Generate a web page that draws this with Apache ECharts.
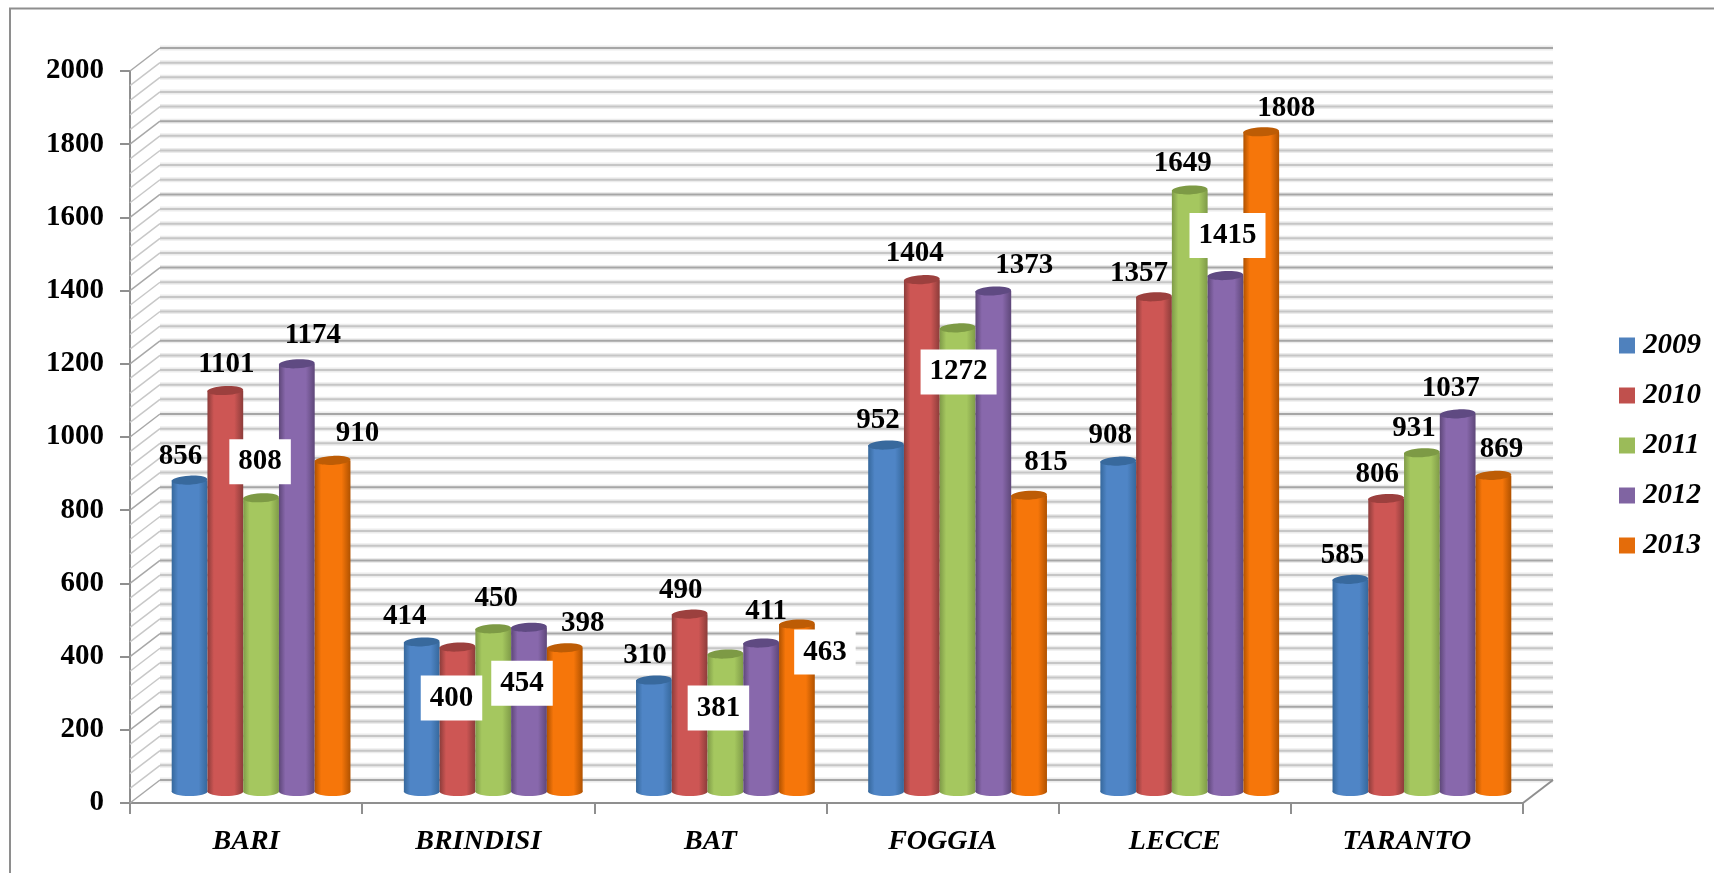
<!DOCTYPE html>
<html>
<head>
<meta charset="utf-8">
<title>Province</title>
<style>
  html, body { margin: 0; padding: 0; background: #fff; }
  #chart { width: 1714px; height: 873px; }
</style>
<script src="https://cdn.jsdelivr.net/npm/echarts@6/dist/echarts.min.js"></script>
</head>
<body>
<div id="chart"></div>
<script>
var categories = ['BARI', 'BRINDISI', 'BAT', 'FOGGIA', 'LECCE', 'TARANTO'];
var years = ['2009', '2010', '2011', '2012', '2013'];

var values2009 = [856, 414, 310, 952, 908, 585];
var values2010 = [1101, 400, 490, 1404, 1357, 806];
var values2011 = [808, 450, 381, 1272, 1649, 931];
var values2012 = [1174, 454, 411, 1373, 1415, 1037];
var values2013 = [910, 398, 463, 815, 1808, 869];
var yearValues = [values2009, values2010, values2011, values2012, values2013];

// 每个柱子的样式: 图例色, 柱边, 柱中, 柱顶
var legendColors = ['#4f81bd', '#c0504d', '#9bbb59', '#8064a2', '#e46c0a'];
var edgeColors = ['#36689c', '#8c3c3a', '#7f9b48', '#5e4779', '#b05200'];
var midColors = ['#4f85c6', '#cd5654', '#a5c75f', '#8868ac', '#f6760a'];
var topColors = ['#38699d', '#9c403e', '#7d9a45', '#5f4a82', '#bd5c05'];

// label offset from bar top: [dx, dy, white box]
var labelShift = [
  [[-9, -22], [-17, -23], [-9, -23], [-8, -23], [-8, -24], [-8, -22]],
  [[1, -24], [-6, 53, 1], [-9, -22], [-7, -24], [-15, -21], [-9, -22]],
  [[-1, -34, 1], [3, -28], [-7, 56, 1], [1, 46, 1], [-7, -24], [-8, -22]],
  [[16, -26], [-7, 58, 1], [5, -30], [31, -23], [2, -38, 1], [-7, -23]],
  [[25, -25], [18, -22], [28, 30, 1], [17, -31], [25, -21], [8, -24]]
];

// 3D depth of the chart box
var depthX = 30;
var depthY = 23;
var fontName = 'Liberation Serif';

// wall lines every 40, the darker ones every 200
var wallTicks = [];
for (var t = 0; t <= 2000; t += 40) {
  wallTicks.push(t);
}

function renderWall(params, api) {
  var v = api.value(0);
  var band = api.size([1, 0])[0];
  var left = api.coord([0, v]);
  var x0 = left[0] - band / 2;
  var y0 = left[1];
  var w = band * categories.length;
  var major = v % 200 === 0;
  var pts = [[x0, y0], [x0 + depthX, y0 - depthY], [x0 + depthX + w, y0 - depthY]];
  var children = [
    {
      type: 'polyline',
      shape: { points: pts.slice(1) },
      style: { fill: null, stroke: '#ececec', lineWidth: 5 },
      silent: true
    },
    {
      type: 'polyline',
      shape: { points: pts.slice(1) },
      style: { fill: null, stroke: major ? '#a6a6a6' : '#c6c6c6', lineWidth: 2 },
      silent: true
    },
    {
      type: 'line',
      shape: { x1: pts[0][0], y1: pts[0][1], x2: pts[1][0], y2: pts[1][1] },
      style: { stroke: major ? '#a8a8a8' : '#c8c8c8', lineWidth: 1.5 },
      silent: true
    }
  ];
  if (v === 0) {
    children.push({
      type: 'line',
      shape: { x1: x0 + w, y1: y0, x2: x0 + w + depthX, y2: y0 - depthY },
      style: { stroke: '#8f8f8f', lineWidth: 2 },
      silent: true
    });
  }
  return { type: 'group', children: children };
}

function renderBar(params, api) {
  var s = params.seriesIndex - 1;
  var c = api.value(0);
  var band = api.size([1, 0])[0];
  var barW = band * 0.154;
  var top = api.coord([c, api.value(1)]);
  var base = api.coord([c, 0]);
  var x = top[0] + depthX / 2 + (s - 2) * barW;
  var yMid = top[1] - depthY / 2;
  var yTop = yMid + 2;
  var yBase = base[1] - depthY / 2;
  var grad = new echarts.graphic.LinearGradient(0, 0, 1, 0, [
    { offset: 0, color: edgeColors[s] },
    { offset: 0.18, color: midColors[s] },
    { offset: 0.75, color: midColors[s] },
    { offset: 1, color: edgeColors[s] }
  ]);
  var shift = labelShift[s][c];
  var textStyle = {
    x: x + shift[0],
    y: yMid + shift[1],
    text: String(api.value(1)),
    fill: '#000',
    font: 'bold 29px "' + fontName + '"',
    align: 'center',
    verticalAlign: 'middle'
  };
  if (shift[2]) {
    textStyle.backgroundColor = '#fff';
    textStyle.padding = [8, 9, 8, 9];
  }
  return {
    type: 'group',
    children: [
      {
        type: 'ellipse',
        shape: { cx: x, cy: yBase, rx: barW / 2, ry: 4.5 },
        style: { fill: grad },
        silent: true
      },
      {
        type: 'rect',
        shape: { x: x - barW / 2, y: yTop, width: barW, height: yBase - yTop },
        style: { fill: grad },
        silent: true
      },
      {
        type: 'ellipse',
        shape: { cx: x, cy: yTop, rx: barW / 2, ry: 4.5 },
        originX: x,
        originY: yTop,
        rotation: 0.05,
        style: { fill: topColors[s] },
        silent: true
      },
      { type: 'text', z2: 100, style: textStyle, silent: true }
    ]
  };
}

var series = [
  {
    type: 'custom',
    name: 'wall',
    renderItem: renderWall,
    data: wallTicks.map(function (v) { return [v]; }),
    encode: { y: 0 },
    clip: false,
    silent: true
  }
];

years.forEach(function (year, i) {
  series.push({
    type: 'custom',
    name: year,
    renderItem: renderBar,
    itemStyle: { color: legendColors[i] },
    data: yearValues[i].map(function (v, c) { return [c, v]; }),
    encode: { x: 0, y: 1 },
    clip: false
  });
});

var option = {
  animation: false,
  backgroundColor: '#fff',
  textStyle: { fontFamily: fontName },
  grid: { left: 130, right: 191, top: 71, bottom: 70 },
  graphic: [
    {
      type: 'polyline',
      shape: { points: [[10, 873], [10, 8.5], [1714, 8.5]] },
      style: { fill: null, stroke: '#8e8e8e', lineWidth: 2 },
      silent: true
    }
  ],
  legend: {
    data: years,
    orient: 'vertical',
    left: 1619,
    top: 331,
    padding: 0,
    icon: 'rect',
    itemWidth: 16,
    itemHeight: 16,
    itemGap: 21,
    textStyle: {
      fontFamily: fontName,
      fontSize: 29,
      fontWeight: 'bold',
      fontStyle: 'italic',
      color: '#000',
      padding: [0, 0, 0, 3]
    }
  },
  xAxis: {
    type: 'category',
    data: categories,
    axisLine: { lineStyle: { color: '#8f8f8f', width: 2 } },
    axisTick: { show: true, length: 11, lineStyle: { color: '#8f8f8f', width: 2 } },
    axisLabel: {
      margin: 25,
      interval: 0,
      fontFamily: fontName,
      fontSize: 28,
      fontWeight: 'bold',
      fontStyle: 'italic',
      color: '#000'
    },
    splitLine: { show: false }
  },
  yAxis: {
    type: 'value',
    min: 0,
    max: 2000,
    interval: 200,
    axisLine: { show: true, lineStyle: { color: '#8f8f8f', width: 2 } },
    axisTick: { show: true, length: 10, lineStyle: { color: '#8f8f8f', width: 2 } },
    axisLabel: {
      margin: 26,
      backgroundColor: 'transparent',
      padding: [4, 0, 0, 0],
      formatter: function (v) { return String(v); },
      fontFamily: fontName,
      fontSize: 29,
      fontWeight: 'bold',
      color: '#000'
    },
    splitLine: { show: false }
  },
  series: series
};

var chart = echarts.init(document.getElementById('chart'));
chart.setOption(option);
</script>
</body>
</html>
